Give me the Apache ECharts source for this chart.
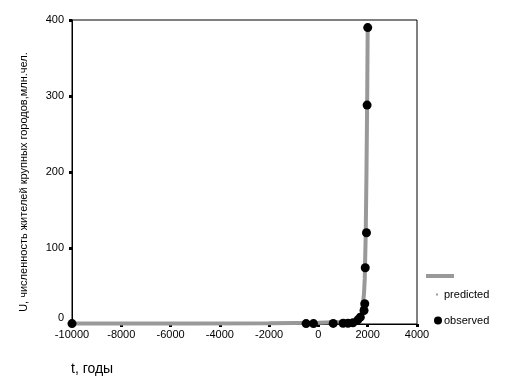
<!DOCTYPE html>
<html>
<head>
<meta charset="utf-8">
<script src="https://cdn.jsdelivr.net/npm/echarts@6/dist/echarts.min.js"></script>
<style>
html,body{margin:0;padding:0;background:#fff;}
#chart{width:506px;height:386px;}
</style>
</head>
<body>
<div id="chart"></div>
<script>
// Observed data (year, million people in large cities)
var obsYears = [-10000, -500, -200, 600, 1000, 1200, 1400, 1600, 1700, 1850, 1880, 1900, 1950, 1975, 2000];
var obsValues = [0.5, 0.5, 0.5, 0.8, 1, 1, 1.5, 5.5, 9, 17.8, 26.6, 74, 120, 288, 390];
// Predicted curve
var predYears = [-10000, -5000, -2000, 0, 1000, 1500, 1700, 1760, 1800, 1850, 1880, 1920, 1950, 1980, 2000];
var predValues = [0.5, 0.7, 1, 1.5, 2.5, 4, 8, 15, 25, 40, 60, 120, 200, 300, 395];
var xTicks = [-10000, -8000, -6000, -4000, -2000, 0, 2000, 4000];
var yTicks = [0, 100, 200, 300, 400];
var xName = 't, годы';
var yName = 'U, численность жителей крупных городов,млн.чел.';

function pairs(xs, ys) { return xs.map(function (x, i) { return [x, ys[i]]; }); }

var font = 'Arial, "Liberation Sans", sans-serif';
var chart = echarts.init(document.getElementById('chart'), null, {renderer: 'canvas'});
chart.setOption({
  animation: false,
  backgroundColor: '#fff',
  grid: {left: 72, right: 89, top: 20, bottom: 62, show: true, borderColor: '#000', borderWidth: 1, backgroundColor: 'transparent'},
  xAxis: {
    type: 'value', min: xTicks[0], max: xTicks[xTicks.length - 1], interval: 2000,
    axisLine: {onZero: false, lineStyle: {color: '#000', width: 1}},
    axisTick: {show: true, length: 3, lineStyle: {color: '#000', width: 3}},
    splitLine: {show: false},
    axisLabel: {color: '#000', fontFamily: font, fontSize: 11, margin: 5, showMinLabel: true, showMaxLabel: true,
      formatter: function (v) { return String(v); }}
  },
  yAxis: {
    type: 'value', min: yTicks[0], max: yTicks[yTicks.length - 1], interval: 100,
    axisLine: {onZero: false, lineStyle: {color: '#000', width: 1}},
    axisTick: {show: true, length: 3, lineStyle: {color: '#000', width: 3}},
    splitLine: {show: false},
    axisLabel: {
      color: '#000', fontFamily: font, fontSize: 11, margin: 8, showMinLabel: true, showMaxLabel: true,
      formatter: function (v) { return v === 0 ? '{z|0}' : String(v); },
      rich: {z: {fontFamily: font, fontSize: 11, color: '#000', padding: [0, 0, 13, 0]}}
    }
  },
  legend: [
    {data: [{name: 'predicted', icon: 'rect'}], left: 431, top: 284, orient: 'vertical', itemWidth: 2, itemHeight: 2, itemGap: 0,
     textStyle: {fontFamily: font, fontSize: 11, color: '#000', padding: [0, 0, 0, 1]}},
    {data: [{name: 'observed', icon: 'circle'}], left: 429, top: 310, orient: 'vertical', itemWidth: 8, itemHeight: 8, itemGap: 0,
     textStyle: {fontFamily: font, fontSize: 11, color: '#000', padding: [0, 0, 0, -3]}}
  ],
  graphic: [
    {type: 'rect', left: 426, top: 274, shape: {width: 28, height: 4}, style: {fill: '#999999'}},
    {type: 'text', x: 24, y: 182, rotation: Math.PI / 2,
     style: {text: yName, fontFamily: font, fontSize: 11, fill: '#000', align: 'center', verticalAlign: 'middle'}},
    {type: 'text', x: 71, y: 369,
     style: {text: xName, fontFamily: font, fontSize: 14, fill: '#000', align: 'left', verticalAlign: 'middle'}}
  ],
  series: [
    {name: 'predicted', type: 'line', data: pairs(predYears, predValues), showSymbol: false, symbol: 'none',
     lineStyle: {color: '#999999', width: 4}, itemStyle: {color: '#999999'}, z: 2, clip: false},
    {name: 'observed', type: 'scatter', data: pairs(obsYears, obsValues), symbol: 'circle', symbolSize: 9,
     itemStyle: {color: '#000', opacity: 1}, z: 3, clip: false}
  ]
});
</script>
</body>
</html>
